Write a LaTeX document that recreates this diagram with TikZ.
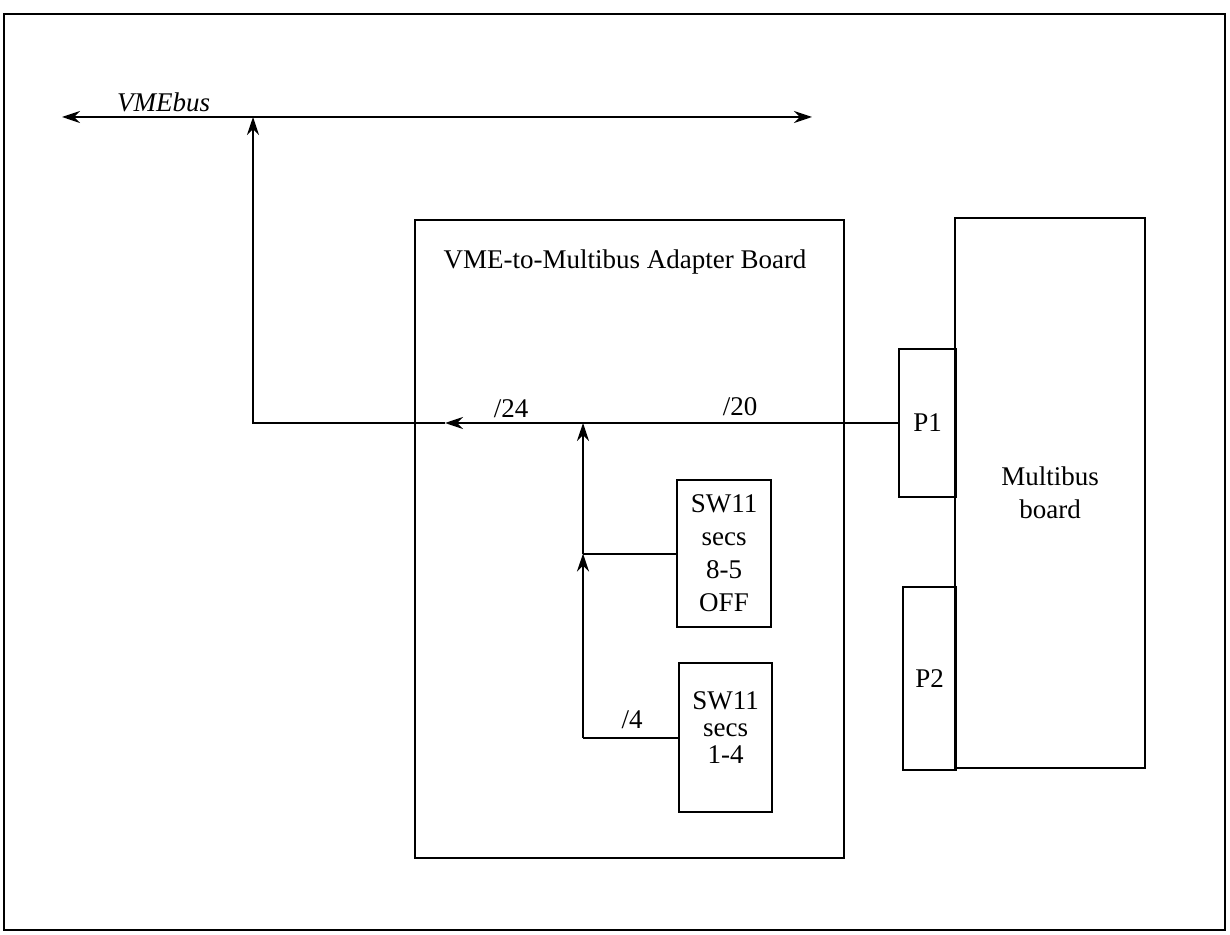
\documentclass[tikz,border=0pt]{standalone}
\usepackage{fontspec}
\setmainfont{Liberation Serif}
\usepackage{tikz}
\usetikzlibrary{arrows.meta, positioning, calc}

\begin{document}
\begin{tikzpicture}[x=0.5pt, y=-0.5pt,
    every node/.style={font=\fontsize{13.5}{16.5}\selectfont},
    board/.style={draw, line width=1pt, rectangle, inner sep=0pt},
    wire/.style={line width=1pt},
    tip/.style={-{Stealth[length=9pt, width=6pt, inset=3pt]}},
    buslabel/.style={inner sep=1pt}]
    \useasboundingbox (0,0) rectangle (1230,935);
    \draw[line width=1.3pt] (4,14) rectangle (1225,930);

    \node[board, minimum width=214.5pt, minimum height=319pt] (adapter) at (629.5,539) {};
    \node (adapterTitle) at (625,262) {VME-to-Multibus Adapter Board};
    \node[board, minimum width=95pt, minimum height=275pt, align=center] (multibus) at (1050,493) {Multibus\\board};
    \node[board, minimum width=28.5pt, minimum height=73.5pt] (pOne) at (927.5,423) {P1};
    \node[board, minimum width=26.5pt, minimum height=91.5pt] (pTwo) at (929.5,678.5) {P2};
    \node[board, minimum width=47pt, minimum height=73.5pt, align=center] (swHigh) at (724,553.5) {SW11\\secs\\8-5\\OFF};
    \node[board, minimum width=46.5pt, minimum height=74.5pt] (swLow) at (725.5,737.5) {};
    \node[align=center, font=\fontsize{13.5}{13.5}\selectfont] (swLowText) at ($(swLow.center)+(0,-10)$) {SW11\\secs\\1-4};

    \coordinate (busWest) at (62,117);
    \coordinate (busEast) at (812,117);
    \coordinate (busTap) at (253,117);
    \coordinate (tipX) at (445,0);
    \coordinate (joinX) at (583,0);
    \coordinate (bend) at (busTap |- pOne.west);
    \coordinate (tipLeft) at (tipX |- pOne.west);
    \coordinate (joinTop) at (joinX |- pOne.west);
    \coordinate (joinMid) at (joinX |- swHigh.west);
    \coordinate (joinLow) at (joinX |- swLow.west);

    \draw[wire, {Stealth[length=9pt, width=6pt, inset=3pt]}-{Stealth[length=9pt, width=6pt, inset=3pt]}] (busWest) -- (busEast);
    \node[font=\fontsize{13.5}{16.5}\selectfont\itshape, anchor=base west] (vmeLabel) at (110,112) {VMEbus};

    \draw[wire, tip] (pOne.west) -- (tipLeft);
    \draw[wire, tip] (tipLeft) -- (bend) -- (busTap);
    \draw[wire, tip] (joinMid) -- (joinTop);
    \draw[wire, tip] (joinLow) -- (joinMid);
    \draw[wire] (swHigh.west) -- (joinMid);
    \draw[wire] (swLow.west) -- (joinLow);

    \node[buslabel] (widthAll) at (511,409) {/24};
    \node[buslabel] (widthPone) at (740,407) {/20};
    \node[buslabel] (widthLow) at (632,720) {/4};
\end{tikzpicture}
\end{document}
